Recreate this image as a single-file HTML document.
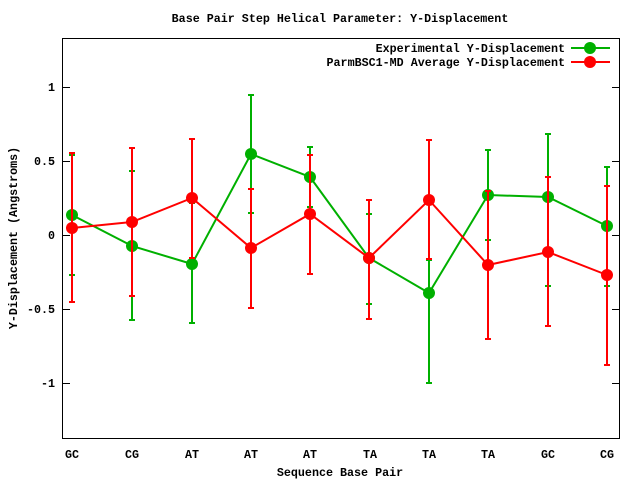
<!DOCTYPE html>
<html><head><meta charset="utf-8"><style>
html,body{margin:0;padding:0;background:#fff;}
svg text{font-family:"Liberation Mono","DejaVu Sans Mono",monospace;font-size:11.7px;font-weight:bold;fill:#000;}
</style></head><body>
<svg width="640" height="480" viewBox="0 0 640 480" xmlns="http://www.w3.org/2000/svg">
<rect width="640" height="480" fill="#fff"/>
<text x="340" y="22" text-anchor="middle">Base Pair Step Helical Parameter: Y-Displacement</text>
<rect x="62.5" y="38.5" width="557" height="400" fill="none" stroke="#000" stroke-width="1"/>
<g stroke="#000" stroke-width="1">
<line x1="62" y1="87.5" x2="70" y2="87.5"/><line x1="612" y1="87.5" x2="620" y2="87.5"/>
<line x1="62" y1="161.5" x2="70" y2="161.5"/><line x1="612" y1="161.5" x2="620" y2="161.5"/>
<line x1="62" y1="235.5" x2="70" y2="235.5"/><line x1="612" y1="235.5" x2="620" y2="235.5"/>
<line x1="62" y1="309.5" x2="70" y2="309.5"/><line x1="612" y1="309.5" x2="620" y2="309.5"/>
<line x1="62" y1="383.5" x2="70" y2="383.5"/><line x1="612" y1="383.5" x2="620" y2="383.5"/>
</g>
<g text-anchor="end">
<text x="55" y="91">1</text><text x="55" y="165">0.5</text><text x="55" y="239">0</text>
<text x="55" y="313">-0.5</text><text x="55" y="387">-1</text>
</g>
<g text-anchor="middle">
<text x="72" y="458">GC</text><text x="132" y="458">CG</text><text x="192" y="458">AT</text>
<text x="251" y="458">AT</text><text x="310" y="458">AT</text><text x="370" y="458">TA</text>
<text x="429" y="458">TA</text><text x="488" y="458">TA</text><text x="548" y="458">GC</text>
<text x="607" y="458">CG</text>
<text x="340" y="476">Sequence Base Pair</text>
</g>
<text transform="translate(17,238) rotate(-90)" text-anchor="middle">Y-Displacement (Angstroms)</text>
<!-- legend -->
<text x="565" y="52" text-anchor="end">Experimental Y-Displacement</text>
<text x="565" y="66" text-anchor="end">ParmBSC1-MD Average Y-Displacement</text>
<line x1="571" y1="48" x2="610" y2="48" stroke="#00b000" stroke-width="2"/>
<circle cx="590" cy="48" r="6" fill="#00b000"/>
<line x1="571" y1="62" x2="610" y2="62" stroke="#f00" stroke-width="2"/>
<circle cx="590" cy="62" r="6" fill="#f00"/>
<!-- green series -->
<g stroke="#00b000" stroke-width="2" fill="none">
<path d="M72 155V275M132 171V320M192 203V323M251 95V213M310 147V207M369 214V304M429 260V383M488 150V240M548 134V286M607 167V286"/>
<path d="M69 155h6M69 275h6M129 171h6M129 320h6M189 203h6M189 323h6M248 95h6M248 213h6M307 147h6M307 207h6M366 214h6M366 304h6M426 260h6M426 383h6M485 150h6M485 240h6M545 134h6M545 286h6M604 167h6M604 286h6"/>
<polyline points="72,215 132,246 192,264 251,154 310,177 369,258 429,293 488,195 548,197 607,226"/>
</g>
<g fill="#00b000">
<circle cx="72" cy="215" r="6"/><circle cx="132" cy="246" r="6"/><circle cx="192" cy="264" r="6"/>
<circle cx="251" cy="154" r="6"/><circle cx="310" cy="177" r="6"/><circle cx="369" cy="258" r="6"/>
<circle cx="429" cy="293" r="6"/><circle cx="488" cy="195" r="6"/><circle cx="548" cy="197" r="6"/>
<circle cx="607" cy="226" r="6"/>
</g>
<!-- red series -->
<g stroke="#f00" stroke-width="2" fill="none">
<path d="M72 153V302M132 148V296M192 139V258M251 189V308M310 155V274M369 200V319M429 140V259M488 191V339M548 177V326M607 186V365"/>
<path d="M69 153h6M69 302h6M129 148h6M129 296h6M189 139h6M189 258h6M248 189h6M248 308h6M307 155h6M307 274h6M366 200h6M366 319h6M426 140h6M426 259h6M485 191h6M485 339h6M545 177h6M545 326h6M604 186h6M604 365h6"/>
<polyline points="72,228 132,222 192,198 251,248 310,214 369,258 429,200 488,265 548,252 607,275"/>
</g>
<g fill="#f00">
<circle cx="72" cy="228" r="6"/><circle cx="132" cy="222" r="6"/><circle cx="192" cy="198" r="6"/>
<circle cx="251" cy="248" r="6"/><circle cx="310" cy="214" r="6"/><circle cx="369" cy="258" r="6"/>
<circle cx="429" cy="200" r="6"/><circle cx="488" cy="265" r="6"/><circle cx="548" cy="252" r="6"/>
<circle cx="607" cy="275" r="6"/>
</g>
</svg>
</body></html>
